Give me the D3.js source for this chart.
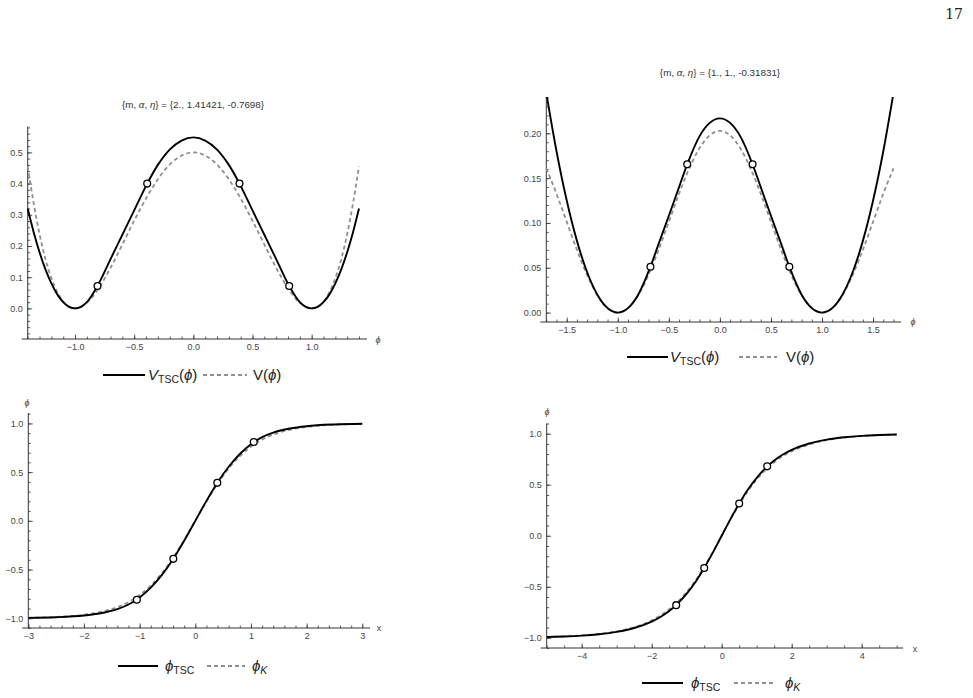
<!DOCTYPE html>
<html lang="en">
<head>
<meta charset="UTF-8">
<title>V_TSC vs V</title>
<script src="https://d3js.org/d3.v7.min.js"></script>
<style>
body { margin: 0; background: #fff; }
svg { display: block; font-family: "Liberation Sans", Arial, sans-serif; }
.tick text { fill: #444; font-size: 9px; }
</style>
</head>
<body>
<svg width="973" height="698"></svg>
<script>
// ---- top left: {m, alpha, eta} = {2., 1.41421, -0.7698}
var phiTL = [-1.4, -1.35, -1.3, -1.25, -1.2, -1.15, -1.1, -1.05, -1.0, -0.95, -0.9, -0.81, -0.7, -0.6, -0.5, -0.39, -0.3, -0.2, -0.1, 0,
    0.1, 0.2, 0.3, 0.39, 0.5, 0.6, 0.7, 0.81, 0.9, 0.95, 1.0, 1.05, 1.1, 1.15, 1.2, 1.25, 1.3, 1.35, 1.4];
var vTscTL = [0.32, 0.245, 0.18, 0.125, 0.08, 0.045, 0.02, 0.005, 0, 0.005, 0.02, 0.072, 0.158, 0.236, 0.314, 0.400, 0.460, 0.509, 0.538, 0.548,
    0.538, 0.509, 0.460, 0.400, 0.314, 0.236, 0.158, 0.072, 0.02, 0.005, 0, 0.005, 0.02, 0.045, 0.08, 0.125, 0.18, 0.245, 0.32];
var vTL = [0.455, 0.338, 0.238, 0.158, 0.097, 0.052, 0.022, 0.005, 0, 0.005, 0.018, 0.059, 0.130, 0.205, 0.281, 0.359, 0.414, 0.461, 0.490, 0.500,
    0.490, 0.461, 0.414, 0.359, 0.281, 0.205, 0.130, 0.059, 0.018, 0.005, 0, 0.005, 0.022, 0.052, 0.097, 0.158, 0.238, 0.338, 0.455];
var markPhiTL = [-0.81, -0.39, 0.39, 0.81];
var markVTL = [0.072, 0.400, 0.400, 0.072];

// ---- top right: {m, alpha, eta} = {1., 1., -0.31831}
var phiTR = [-1.7, -1.6, -1.5, -1.4, -1.3, -1.2, -1.1, -1.05, -1.0, -0.95, -0.9, -0.8, -0.68, -0.6, -0.5, -0.4, -0.32, -0.2, -0.1, 0,
    0.1, 0.2, 0.32, 0.4, 0.5, 0.6, 0.68, 0.8, 0.9, 0.95, 1.0, 1.05, 1.1, 1.2, 1.3, 1.4, 1.5, 1.6, 1.7];
var vTscTR = [0.245, 0.18, 0.125, 0.08, 0.045, 0.02, 0.005, 0.00125, 0, 0.00125, 0.005, 0.02, 0.0512, 0.0766, 0.108, 0.140, 0.1654, 0.1966, 0.2116, 0.2166,
    0.2116, 0.1966, 0.1654, 0.140, 0.108, 0.0766, 0.0512, 0.02, 0.005, 0.00125, 0, 0.00125, 0.005, 0.02, 0.045, 0.08, 0.125, 0.18, 0.245];
var vTR = [0.1609, 0.1326, 0.1013, 0.0700, 0.0418, 0.0194, 0.0050, 0.0012, 0, 0.0012, 0.0050, 0.0194, 0.0470, 0.0700, 0.1013, 0.1326, 0.1556, 0.1833, 0.1977, 0.2026,
    0.1977, 0.1833, 0.1556, 0.1326, 0.1013, 0.0700, 0.0470, 0.0194, 0.0050, 0.0012, 0, 0.0012, 0.0050, 0.0194, 0.0418, 0.0700, 0.1013, 0.1326, 0.1609];
var markPhiTR = [-0.68, -0.32, 0.32, 0.68];
var markVTR = [0.0512, 0.1654, 0.1654, 0.0512];

// ---- bottom left: kink profiles, m = 2
var xBL = [-3, -2.5, -2, -1.7, -1.4, -1.2, -1.0, -0.8, -0.6, -0.4, -0.2, 0, 0.2, 0.4, 0.6, 0.8, 1.0, 1.2, 1.4, 1.7, 2, 2.5, 3];
var phiTscBL = [-0.9962, -0.9895, -0.9716, -0.948, -0.9056, -0.859, -0.786, -0.686, -0.555, -0.3945, -0.205, 0,
    0.205, 0.3945, 0.555, 0.686, 0.786, 0.859, 0.9056, 0.948, 0.9716, 0.9895, 0.9962];
var phiKBL = [-0.9951, -0.9866, -0.9640, -0.9354, -0.8854, -0.8337, -0.7616, -0.6640, -0.5370, -0.3799, -0.1974, 0,
    0.1974, 0.3799, 0.5370, 0.6640, 0.7616, 0.8337, 0.8854, 0.9354, 0.9640, 0.9866, 0.9951];
var markXBL = [-1.05, -0.395, 0.395, 1.05];
var markPhiBL = [-0.81, -0.39, 0.39, 0.81];

// ---- bottom right: kink profiles, m = 1
var xBR = [-5, -4.5, -4, -3.5, -3, -2.5, -2, -1.75, -1.5, -1.25, -1, -0.75, -0.5, -0.25, 0,
    0.25, 0.5, 0.75, 1, 1.25, 1.5, 1.75, 2, 2.5, 3, 3.5, 4, 4.5, 5];
var phiTscBR = [-0.992, -0.987, -0.979, -0.965, -0.942, -0.904, -0.841, -0.796, -0.738, -0.6625, -0.568, -0.453, -0.316, -0.163, 0,
    0.163, 0.316, 0.453, 0.568, 0.6625, 0.738, 0.796, 0.841, 0.904, 0.942, 0.965, 0.979, 0.987, 0.992];
var phiKBR = [-0.9914, -0.9859, -0.9767, -0.9616, -0.9367, -0.8957, -0.8285, -0.7809, -0.7204, -0.6451, -0.5512, -0.4381, -0.3057, -0.1577, 0,
    0.1577, 0.3057, 0.4381, 0.5512, 0.6451, 0.7204, 0.7809, 0.8285, 0.8957, 0.9367, 0.9616, 0.9767, 0.9859, 0.9914];
var markXBR = [-1.3, -0.5, 0.5, 1.3];
var markPhiBR = [-0.68, -0.316, 0.316, 0.68];

// ---- tick labels
var xTicksTL = [-1, -0.5, 0, 0.5, 1];
var yTicksTL = [0, 0.1, 0.2, 0.3, 0.4, 0.5];
var xTicksTR = [-1.5, -1, -0.5, 0, 0.5, 1, 1.5];
var yTicksTR = [0, 0.05, 0.1, 0.15, 0.2];
var xTicksBL = [-3, -2, -1, 0, 1, 2, 3];
var xTicksBR = [-4, -2, 0, 2, 4];
var yTicksKink = [-1, -0.5, 0, 0.5, 1];

var titleTL = ['2.', '1.41421', '-0.7698'];
var titleTR = ['1.', '1.', '-0.31831'];

var svg = d3.select('svg');
var GRAY = '#8f8f8f';

function fmt(spec) {
    var f = d3.format(spec);
    return function(d) { return f(d).replace('-', '\u2212'); };
}

function zip(a, b) {
    return a.map(function(d, i) { return [d, b[i]]; });
}

var panels = [
    { id: 'tl', xDomain: [-1.4, 1.4], xRange: [27.7, 359], yDomain: [-0.098, 0.583], yRange: [339, 126.5],
      axisEnd: 367, xMajor: xTicksTL, xMinor: d3.range(-14, 15).map(function(d) { return d / 10; }), xFmt: fmt('.1f'),
      yMajor: yTicksTL, yMinor: d3.range(-4, 30).map(function(d) { return d / 50; }), yFmt: fmt('.1f'),
      solid: zip(phiTL, vTscTL), dashed: zip(phiTL, vTL), marks: zip(markPhiTL, markVTL),
      xLabel: '\u03d5', xLabelPos: [378, 343], yLabel: null,
      title: titleTL, titlePos: [193, 108], legend: 'V', legendY: 375, legendX: [103, 145, 148, 203, 247, 253] },
    { id: 'tr', xDomain: [-1.7, 1.7], xRange: [546.3, 893.5], yDomain: [-0.0105, 0.2405], yRange: [322, 97],
      axisEnd: 901, xMajor: xTicksTR, xMinor: d3.range(-17, 18).map(function(d) { return d / 10; }), xFmt: fmt('.1f'),
      yMajor: yTicksTR, yMinor: d3.range(0, 25).map(function(d) { return d / 100; }), yFmt: fmt('.2f'),
      solid: zip(phiTR, vTscTR), dashed: zip(phiTR, vTR), marks: zip(markPhiTR, markVTR),
      xLabel: '\u03d5', xLabelPos: [913, 325], yLabel: null,
      title: titleTR, titlePos: [720, 76], legend: 'V', legendY: 357, legendX: [627, 668, 670, 739, 777, 786] },
    { id: 'bl', xDomain: [-3, 3], xRange: [28.3, 362.3], yDomain: [-1.1, 1.107], yRange: [628, 413],
      axisEnd: 370, xMajor: xTicksBL, xMinor: d3.range(-15, 16).map(function(d) { return d / 5; }), xFmt: fmt('d'),
      yMajor: yTicksKink, yMinor: d3.range(-11, 12).map(function(d) { return d / 10; }), yFmt: fmt('.1f'),
      solid: zip(xBL, phiTscBL), dashed: zip(xBL, phiKBL), marks: zip(markXBL, markPhiBL),
      xLabel: 'x', xLabelPos: [379, 631], yLabel: '\u03d5', yLabelPos: [27, 406],
      title: null, legend: 'phi', legendY: 666, legendX: [118, 158, 165, 207, 245, 252] },
    { id: 'br', xDomain: [-5, 5], xRange: [546.7, 896.7], yDomain: [-1.1, 1.1], yRange: [648, 423.5],
      axisEnd: 903, xMajor: xTicksBR, xMinor: d3.range(-10, 11).map(function(d) { return d / 2; }), xFmt: fmt('d'),
      yMajor: yTicksKink, yMinor: d3.range(-11, 12).map(function(d) { return d / 10; }), yFmt: fmt('.1f'),
      solid: zip(xBR, phiTscBR), dashed: zip(xBR, phiKBR), marks: zip(markXBR, markPhiBR),
      xLabel: 'x', xLabelPos: [915, 652], yLabel: '\u03d5', yLabelPos: [547, 415],
      title: null, legend: 'phi', legendY: 683, legendX: [642, 683, 691, 734, 773, 785] }
];

panels.forEach(function(p) {
    var x = d3.scaleLinear().domain(p.xDomain).range(p.xRange);
    var y = d3.scaleLinear().domain(p.yDomain).range(p.yRange);
    var g = svg.append('g');
    var x0 = p.xRange[0], y0 = p.yRange[0];

    // minor ticks
    g.append('g').attr('transform', 'translate(0,' + y0 + ')')
        .call(d3.axisBottom(x).tickValues(p.xMinor).tickSize(-2.5).tickFormat(''));
    g.append('g').attr('transform', 'translate(' + x0 + ',0)')
        .call(d3.axisLeft(y).tickValues(p.yMinor).tickSize(-2.5).tickFormat(''));
    // major ticks
    g.append('g').attr('transform', 'translate(0,' + y0 + ')')
        .call(d3.axisBottom(x).tickValues(p.xMajor).tickSize(-4.5).tickPadding(5).tickFormat(p.xFmt));
    g.append('g').attr('transform', 'translate(' + x0 + ',0)')
        .call(d3.axisLeft(y).tickValues(p.yMajor).tickSize(-4.5).tickPadding(5).tickFormat(p.yFmt));
    g.selectAll('.domain').remove();
    g.selectAll('.tick line').attr('stroke', '#333').attr('stroke-width', 0.8);
    g.selectAll('.tick text').attr('font-family', '"Liberation Sans", Arial, sans-serif');

    // axis lines
    g.append('line').attr('x1', x0 - 6).attr('x2', p.axisEnd).attr('y1', y0).attr('y2', y0)
        .attr('stroke', '#333').attr('stroke-width', 1);
    g.append('line').attr('x1', x0).attr('x2', x0).attr('y1', y0).attr('y2', p.yRange[1])
        .attr('stroke', '#333').attr('stroke-width', 1);

    // axis labels
    g.append('text').attr('x', p.xLabelPos[0]).attr('y', p.xLabelPos[1])
        .attr('font-size', 9).attr('fill', '#444').attr('text-anchor', 'middle')
        .attr('font-style', p.xLabel === 'x' ? 'normal' : 'italic').text(p.xLabel);
    if (p.yLabel) {
        g.append('text').attr('x', p.yLabelPos[0]).attr('y', p.yLabelPos[1])
            .attr('font-size', 9).attr('fill', '#444').attr('text-anchor', 'middle')
            .attr('font-style', 'italic').text(p.yLabel);
    }

    // clip to plot range
    svg.append('clipPath').attr('id', 'clip-' + p.id).append('rect')
        .attr('x', x0 - 2).attr('y', p.yRange[1])
        .attr('width', p.xRange[1] - x0 + 4).attr('height', y0 - p.yRange[1]);

    var line = d3.line()
        .x(function(d) { return x(d[0]); })
        .y(function(d) { return y(d[1]); })
        .curve(d3.curveMonotoneX);

    var plot = g.append('g').attr('clip-path', 'url(#clip-' + p.id + ')');
    plot.append('path').datum(p.dashed).attr('d', line)
        .attr('fill', 'none').attr('stroke', GRAY).attr('stroke-width', 1.8)
        .attr('stroke-dasharray', '4,3');
    plot.append('path').datum(p.solid).attr('d', line)
        .attr('fill', 'none').attr('stroke', '#000').attr('stroke-width', 1.9);

    g.selectAll('circle.mk').data(p.marks).enter().append('circle')
        .attr('class', 'mk')
        .attr('cx', function(d) { return x(d[0]); })
        .attr('cy', function(d) { return y(d[1]); })
        .attr('r', 3.4).attr('fill', '#fff').attr('stroke', '#000').attr('stroke-width', 1.3);

    // title
    if (p.title) {
        var t = g.append('text').attr('x', p.titlePos[0]).attr('y', p.titlePos[1])
            .attr('text-anchor', 'middle').attr('font-size', 9.8).attr('fill', '#333');
        t.append('tspan').text('{m, ');
        t.append('tspan').attr('font-style', 'italic').text('\u03b1');
        t.append('tspan').text(', ');
        t.append('tspan').attr('font-style', 'italic').text('\u03b7');
        t.append('tspan').text('} = {' + p.title.join(', ') + '}');
    }

    // legend
    var lx = p.legendX, ly = p.legendY;
    g.append('line').attr('x1', lx[0]).attr('x2', lx[1]).attr('y1', ly).attr('y2', ly)
        .attr('stroke', '#000').attr('stroke-width', 2.2);
    g.append('line').attr('x1', lx[3]).attr('x2', lx[4]).attr('y1', ly).attr('y2', ly)
        .attr('stroke', GRAY).attr('stroke-width', 1.8).attr('stroke-dasharray', '4,3');
    var t1 = g.append('text').attr('x', lx[2]).attr('y', ly + 5).attr('font-size', 15).attr('fill', '#222');
    var t2 = g.append('text').attr('x', lx[5]).attr('y', ly + 5).attr('font-size', 15).attr('fill', '#222');
    if (p.legend === 'V') {
        t1.append('tspan').attr('font-style', 'italic').text('V');
        t1.append('tspan').attr('font-size', 10.5).attr('dy', 3).text('TSC');
        t1.append('tspan').attr('dy', -3).text('(');
        t1.append('tspan').attr('font-style', 'italic').text('\u03d5');
        t1.append('tspan').text(')');
        t2.append('tspan').text('V(');
        t2.append('tspan').attr('font-style', 'italic').text('\u03d5');
        t2.append('tspan').text(')');
    } else {
        t1.append('tspan').attr('font-style', 'italic').text('\u03d5');
        t1.append('tspan').attr('font-size', 10.5).attr('dy', 3).text('TSC');
        t2.append('tspan').attr('font-style', 'italic').text('\u03d5');
        t2.append('tspan').attr('font-size', 10.5).attr('dy', 3).attr('font-style', 'italic').text('K');
    }
});

// page number
svg.append('text').attr('x', 963).attr('y', 19).attr('text-anchor', 'end')
    .attr('font-family', '"DejaVu Serif", "Liberation Serif", serif').attr('font-size', 14)
    .attr('fill', '#222').text('17');
</script>
</body>
</html>
